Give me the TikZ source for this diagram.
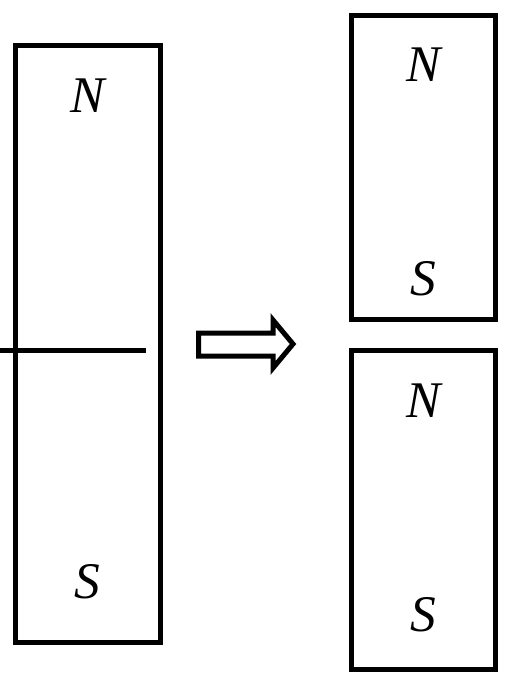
\documentclass[tikz,border=0pt]{standalone}
\usepackage{fontspec}
\setmainfont{Liberation Serif}
\usetikzlibrary{positioning}

\begin{document}
\begin{tikzpicture}[x=0.5pt,y=-0.5pt,
  magnet/.style={draw,line width=2.5pt,inner sep=0pt,minimum width=72.5pt},
  pole/.style={font=\fontsize{25.7}{30}\selectfont\itshape,inner sep=0pt},
  cut/.style={line width=2.5pt},
  turn/.style={draw,line width=2.5pt,line join=miter}
]
\useasboundingbox (0,0) rectangle (506,690);
% whole magnet
\node[magnet,minimum height=298pt] (whole) at (87.5,344) {};
\node[pole,below=17.5pt of whole.north] (wN) {N};
\node[pole,above=22.5pt of whole.south] (wS) {S};
% the two halves
\node[magnet,minimum width=72pt,minimum height=152pt] (top) at (423.5,167.5) {};
\node[pole,below=17pt of top.north] (tN) {N};
\node[pole,above=13pt of top.south] (tS) {S};
\node[magnet,minimum width=72pt,minimum height=159.5pt] (bot) at (423.5,510) {};
\node[pole,below=17.5pt of bot.north] (bN) {N};
\node[pole,above=20pt of bot.south] (bS) {S};
% cut line
\coordinate (cutA) at (0,350.5);
\coordinate (cutB) at (146,350.5);
\draw[cut] (cutA) -- (cutB);
% arrow
\draw[turn] (198.5,333) -- (273,333) -- (273,320) -- (293,344)
  -- (273,368) -- (273,356) -- (198.5,356) -- cycle;
\end{tikzpicture}
\end{document}
